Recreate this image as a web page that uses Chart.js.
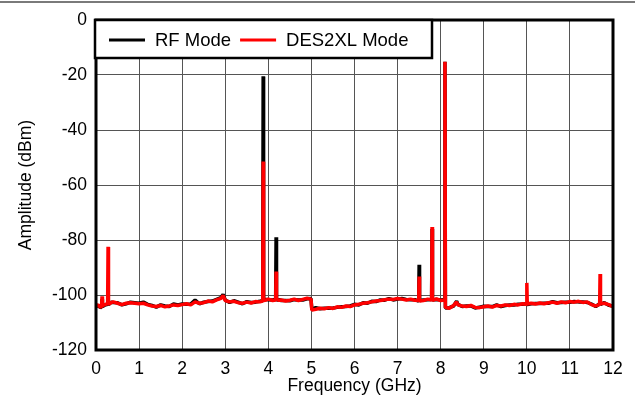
<!DOCTYPE html>
<html>
<head>
<meta charset="utf-8">
<script src="https://cdn.jsdelivr.net/npm/chart.js@4.4.1/dist/chart.umd.min.js"></script>
<style>
  html, body { margin: 0; padding: 0; background: #fff; }
  #wrap { width: 635px; height: 403px; position: relative; }
</style>
</head>
<body>
<div id="wrap"><canvas id="spectrumChart"></canvas></div>
<script>
// Frequency points (GHz), grouped per 1 GHz span
const freqGHz = [
    0.0, 0.05, 0.1, 0.13, 0.14, 0.15, 0.2, 0.27, 0.28, 0.29, 0.35, 0.4, 0.5, 0.6, 0.7, 0.8, 0.9,
    1.0, 1.1, 1.2, 1.3, 1.4, 1.5, 1.6, 1.7, 1.8, 1.9,
    2.0, 2.1, 2.2, 2.3, 2.4, 2.5, 2.6, 2.7, 2.8, 2.9, 2.95,
    3.0, 3.1, 3.2, 3.3, 3.4, 3.5, 3.6, 3.7, 3.8, 3.87, 3.88, 3.89, 3.95,
    4.0, 4.1, 4.17, 4.18, 4.19, 4.25, 4.3, 4.4, 4.5, 4.6, 4.7, 4.8, 4.9, 4.99,
    5.01, 5.1, 5.2, 5.3, 5.4, 5.5, 5.6, 5.7, 5.8, 5.9,
    6.0, 6.1, 6.2, 6.3, 6.4, 6.5, 6.6, 6.7, 6.8, 6.9,
    7.0, 7.1, 7.2, 7.3, 7.4, 7.49, 7.5, 7.51, 7.6, 7.7, 7.79, 7.8, 7.81, 7.9, 8.0, 8.09, 8.1, 8.11,
    8.2, 8.3, 8.37, 8.4, 8.5, 8.6, 8.7, 8.8, 8.9,
    9.0, 9.1, 9.2, 9.3, 9.4, 9.5, 9.6, 9.7, 9.8, 9.9, 9.99, 10.0, 10.01,
    10.1, 10.2, 10.3, 10.4, 10.5, 10.6, 10.7, 10.8, 10.9,
    11.0, 11.1, 11.2, 11.3, 11.4, 11.5, 11.6, 11.69, 11.7, 11.71, 11.8, 11.9, 12.0
];

// RF Mode amplitude (dBm)
const rfMode = [
    -104.2, -103.8, -104.6, -104.3, -101.5, -104.2, -103.7, -103.4, -103.0, -103.5, -102.6, -102.7, -102.8, -103.6, -103.2, -102.6, -102.8,
    -103.0, -102.6, -103.4, -103.8, -104.4, -103.6, -104.0, -104.2, -103.3, -103.6,
    -103.3, -103.4, -103.3, -101.8, -103.2, -102.6, -102.4, -102.2, -101.6, -101.0, -99.8,
    -101.8, -102.7, -102.1, -102.6, -103.2, -102.4, -102.7, -102.6, -102.3, -102.0, -20.5, -101.8, -101.6,
    -101.7, -101.8, -101.6, -79.0, -101.8, -101.7, -102.0, -102.0, -102.1, -101.7, -101.8, -101.8, -101.4, -101.3,
    -105.3, -104.6, -105.0, -104.8, -104.8, -104.7, -104.5, -104.3, -104.2, -104.0,
    -103.4, -103.6, -102.8, -103.0, -102.3, -102.4, -101.8, -101.9, -101.3, -101.8,
    -101.5, -101.3, -101.6, -101.7, -101.7, -102.2, -89.0, -102.0, -101.8, -101.7, -101.6, -76.0, -101.8, -101.6, -101.8, -101.6, -15.2, -104.7,
    -104.6, -104.0, -102.2, -103.4, -104.2, -104.0, -104.0, -104.7, -104.4,
    -104.1, -104.2, -104.2, -103.6, -104.2, -103.8, -103.6, -103.6, -103.4, -103.4, -103.2, -103.2, -103.5,
    -103.2, -103.1, -103.1, -103.0, -103.0, -102.4, -102.8, -102.7, -102.6,
    -102.6, -102.4, -102.5, -102.5, -102.7, -103.3, -104.2, -103.2, -103.0, -103.4, -102.8, -103.7, -104.0
];

// DES2XL Mode amplitude (dBm)
const des2xlMode = [
    -104.0, -103.6, -104.5, -104.2, -100.5, -104.0, -103.5, -103.2, -82.5, -103.4, -102.8, -102.5, -103.0, -103.5, -103.0, -102.8, -103.0,
    -103.2, -103.0, -103.6, -104.0, -104.2, -103.8, -104.3, -104.0, -103.6, -103.8,
    -103.5, -103.2, -103.6, -102.5, -103.0, -102.8, -102.2, -102.5, -101.8, -101.2, -100.2,
    -102.0, -102.5, -102.3, -102.8, -103.0, -102.6, -102.9, -102.4, -102.5, -102.2, -51.5, -102.0, -101.8,
    -101.5, -102.0, -101.8, -91.5, -101.6, -101.9, -101.8, -102.2, -101.9, -101.5, -102.0, -101.6, -101.2, -101.5,
    -105.5, -105.2, -104.8, -105.0, -104.6, -104.9, -104.3, -104.5, -104.0, -104.2,
    -103.6, -103.4, -103.0, -102.8, -102.5, -102.2, -102.0, -101.7, -101.5, -101.6,
    -101.3, -101.5, -101.8, -101.5, -101.9, -102.0, -93.3, -102.2, -102.0, -101.5, -101.8, -75.3, -102.0, -101.4, -102.0, -101.8, -15.2, -104.5,
    -104.8, -103.8, -102.5, -103.6, -104.0, -104.2, -103.8, -104.5, -104.6,
    -104.3, -104.0, -104.4, -103.8, -104.0, -103.6, -103.8, -103.4, -103.6, -103.2, -103.4, -95.6, -103.3,
    -103.0, -103.3, -102.9, -103.2, -102.8, -102.6, -103.0, -102.5, -102.8,
    -102.4, -102.6, -102.3, -102.7, -102.5, -103.5, -104.0, -103.4, -92.4, -103.2, -103.0, -103.5, -104.2
];

const seriesLabels = ['RF Mode', 'DES2XL Mode'];
const seriesColors = ['#000000', '#ff0000'];

const FONT = '"Liberation Sans", Arial, Helvetica, sans-serif';

function toPoints(values) {
    return freqGHz.map((f, i) => ({ x: f, y: values[i] }));
}

// frame, top rule and boxed legend
const framePlugin = {
    id: 'frame',
    beforeDraw(chart) {
        const c = chart.ctx;
        c.save();
        c.fillStyle = '#7a7a7a';
        c.fillRect(0, 1, chart.width, 2);
        c.restore();
    },
    afterDatasetsDraw(chart) {
        const c = chart.ctx;
        const a = chart.chartArea;
        c.save();
        c.strokeStyle = '#000';
        c.lineWidth = 3;
        c.strokeRect(a.left, a.top, a.right - a.left, a.bottom - a.top);

        // legend box
        const bx = a.left - 1, by = a.top, bw = 337, bh = 38;
        c.fillStyle = '#fff';
        c.fillRect(bx, by, bw, bh);
        c.lineWidth = 2.5;
        c.strokeRect(bx, by, bw, bh);

        c.font = '18.5px ' + FONT;
        c.textBaseline = 'middle';
        const ly = by + 20;
        let x = bx + 14;
        chart.data.datasets.forEach((ds, i) => {
            c.strokeStyle = seriesColors[i];
            c.lineWidth = 3;
            c.beginPath();
            c.moveTo(x, ly);
            c.lineTo(x + 36, ly);
            c.stroke();
            x += 46;
            c.fillStyle = '#000';
            c.fillText(seriesLabels[i], x, ly + 1);
            x += c.measureText(seriesLabels[i]).width + 9;
        });
        c.restore();
    }
};

const ctx = document.getElementById('spectrumChart').getContext('2d');

const spectrumChart = new Chart(ctx, {
    type: 'line',
    data: {
        datasets: [
            {
                label: seriesLabels[0],
                data: toPoints(rfMode),
                borderColor: seriesColors[0],
                borderWidth: 3.5,
                pointRadius: 0,
                borderJoinStyle: 'bevel',
                tension: 0,
                order: 2
            },
            {
                label: seriesLabels[1],
                data: toPoints(des2xlMode),
                borderColor: seriesColors[1],
                borderWidth: 3.5,
                pointRadius: 0,
                borderJoinStyle: 'bevel',
                tension: 0,
                order: 1
            }
        ]
    },
    options: {
        responsive: true,
        maintainAspectRatio: false,
        animation: false,
        layout: { padding: { left: 0, top: 20, right: 22, bottom: 0 } },
        scales: {
            x: {
                type: 'linear',
                min: 0,
                max: 12,
                afterFit(scale) { scale.height = 53; },
                ticks: {
                    stepSize: 1,
                    padding: 9,
                    color: '#000',
                    font: { family: FONT, size: 17.5 },
                    maxRotation: 0
                },
                grid: { color: '#555555', lineWidth: 1, drawTicks: false },
                border: { display: false },
                title: {
                    display: true,
                    text: 'Frequency (GHz)',
                    color: '#000',
                    font: { family: FONT, size: 17.5 },
                    padding: { top: 0, bottom: 6 }
                }
            },
            y: {
                min: -120,
                max: 0,
                afterFit(scale) { scale.width = 96; },
                ticks: {
                    stepSize: 20,
                    padding: 9,
                    color: '#000',
                    font: { family: FONT, size: 17.5 }
                },
                grid: { color: '#555555', lineWidth: 1, drawTicks: false },
                border: { display: false },
                title: {
                    display: true,
                    text: 'Amplitude (dBm)',
                    color: '#000',
                    font: { family: FONT, size: 17.5 },
                    padding: { top: 16, bottom: 0 }
                }
            }
        },
        plugins: {
            legend: { display: false },
            tooltip: { enabled: false }
        }
    },
    plugins: [framePlugin]
});
</script>
</body>
</html>
